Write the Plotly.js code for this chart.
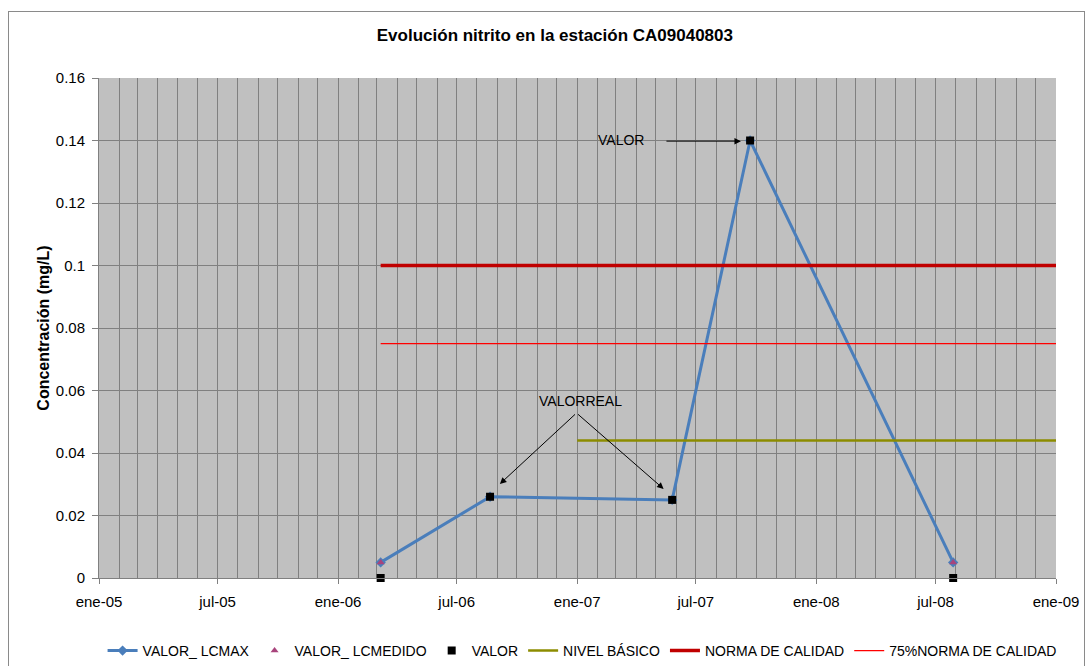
<!DOCTYPE html>
<html>
<head>
<meta charset="utf-8">
<script src="https://cdn.plot.ly/plotly-3.0.1.min.js"></script>
<style>
html,body{margin:0;padding:0;background:#fff;}
#wrap{position:relative;width:1088px;height:666px;overflow:hidden;}
#chart{width:1088px;height:666px;}
#frame{position:absolute;left:8px;top:11px;width:1077px;height:680px;border:1px solid #8a8a8a;box-sizing:border-box;pointer-events:none;}
</style>
</head>
<body>
<div id="wrap"><div id="chart"></div><div id="frame"></div></div>
<script>
// ---- data ----
const fechas = ['2006-03-07','2006-08-21','2007-05-26','2007-09-22','2008-07-28'];
const valorLcMax = [0.005, 0.026, 0.025, 0.14, 0.005];
const fechasLcMedido = ['2006-03-07','2008-07-28'];
const valorLcMedido = [0.005, 0.005];
const valor = [0, 0.026, 0.025, 0.14, 0];
const fechasNorma = ['2006-03-07','2009-01-01'];
const normaCalidad = [0.1, 0.1];
const norma75 = [0.075, 0.075];
const fechasNivel = ['2007-01-01','2009-01-01'];
const nivelBasico = [0.044, 0.044];
const tickFechas = ['2005-01-01','2005-07-01','2006-01-01','2006-07-01','2007-01-01','2007-07-01','2008-01-01','2008-07-01','2009-01-01'];
const tickTextos = ['ene-05','jul-05','ene-06','jul-06','ene-07','jul-07','ene-08','jul-08','ene-09'];

const FONT = '"Liberation Sans", Arial, sans-serif';

const traces = [
  {name:'VALOR_ LCMAX', x:fechas, y:valorLcMax, type:'scatter', mode:'lines+markers',
   line:{color:'#4A7EBB', width:3}, marker:{symbol:'diamond', size:8, color:'#4A7EBB'}, cliponaxis:false},
  {name:'VALOR_ LCMEDIDO', x:fechasLcMedido, y:valorLcMedido, type:'scatter', mode:'markers',
   marker:{symbol:'triangle-up', size:7, color:'#A8447C'}, cliponaxis:false},
  {name:'VALOR', x:fechas, y:valor, type:'scatter', mode:'markers',
   marker:{symbol:'square', size:8, color:'#000000'}, cliponaxis:false},
  {name:'NIVEL BÁSICO', x:fechasNivel, y:nivelBasico, type:'scatter', mode:'lines',
   line:{color:'#8C8C00', width:2.5}},
  {name:'NORMA DE CALIDAD', x:fechasNorma, y:normaCalidad, type:'scatter', mode:'lines',
   line:{color:'#C00000', width:3.5}},
  {name:'75%NORMA DE CALIDAD', x:fechasNorma, y:norma75, type:'scatter', mode:'lines',
   line:{color:'#FF0000', width:1.3}}
];

const arrowStyle = {showarrow:true, arrowhead:2, arrowsize:1.3, arrowwidth:1, arrowcolor:'#000', text:'', axref:'x', ayref:'y', xref:'x', yref:'y'};

const layout = {
  width:1088, height:666,
  margin:{l:99, r:32, t:78, b:88, autoexpand:false},
  paper_bgcolor:'#ffffff', plot_bgcolor:'#C0C0C0',
  font:{family:FONT, size:14, color:'#000'},
  title:{text:'<b>Evolución nitrito en la estación CA09040803</b>', font:{family:FONT, size:17, color:'#000'},
         x:0.51, xref:'container', xanchor:'center', y:1-35/666, yref:'container', yanchor:'middle'},
  xaxis:{type:'date', range:['2005-01-01','2009-01-01'], tickmode:'array', tickvals:tickFechas, ticktext:tickTextos,
         showgrid:true, gridcolor:'#808080', gridwidth:1,
         minor:{dtick:'M1', tick0:'2005-01-01', showgrid:true, gridcolor:'#808080', gridwidth:1, ticks:''},
         showline:true, linecolor:'#808080', linewidth:1, ticks:'outside', ticklen:5, tickcolor:'#808080',
         ticklabelstandoff:5, zeroline:false, tickfont:{size:15}},
  yaxis:{range:[0,0.16], dtick:0.02, tick0:0, showgrid:true, gridcolor:'#808080', gridwidth:1,
         showline:true, linecolor:'#808080', linewidth:1, ticks:'outside', ticklen:6, tickcolor:'#808080',
         ticklabelstandoff:4, zeroline:false, tickfont:{size:15},
         title:{text:'<b>Concentración (mg/L)</b>', font:{family:FONT, size:16}, standoff:2}},
  showlegend:true,
  legend:{orientation:'h', x:0.535, xref:'container', xanchor:'center', y:1-651/666, yref:'container', yanchor:'middle',
          font:{family:FONT, size:14}, bgcolor:'rgba(0,0,0,0)', itemwidth:30, traceorder:'normal'},
  annotations:[
    {text:'VALOR', x:'2007-03-09', y:0.1402, xref:'x', yref:'y', showarrow:false, font:{size:14}},
    Object.assign({}, arrowStyle, {x:'2007-09-08', y:0.1398, ax:'2007-05-15', ay:0.1398}),
    {text:'VALORREAL', x:'2007-01-06', y:0.0566, xref:'x', yref:'y', showarrow:false, font:{size:14}},
    Object.assign({}, arrowStyle, {x:'2006-09-05', y:0.0301, ax:'2006-12-31', ay:0.0528}),
    Object.assign({}, arrowStyle, {x:'2007-05-13', y:0.0285, ax:'2006-12-31', ay:0.0528})
  ]
};

Plotly.newPlot('chart', traces, layout, {displayModeBar:false, staticPlot:true});
</script>
</body>
</html>
